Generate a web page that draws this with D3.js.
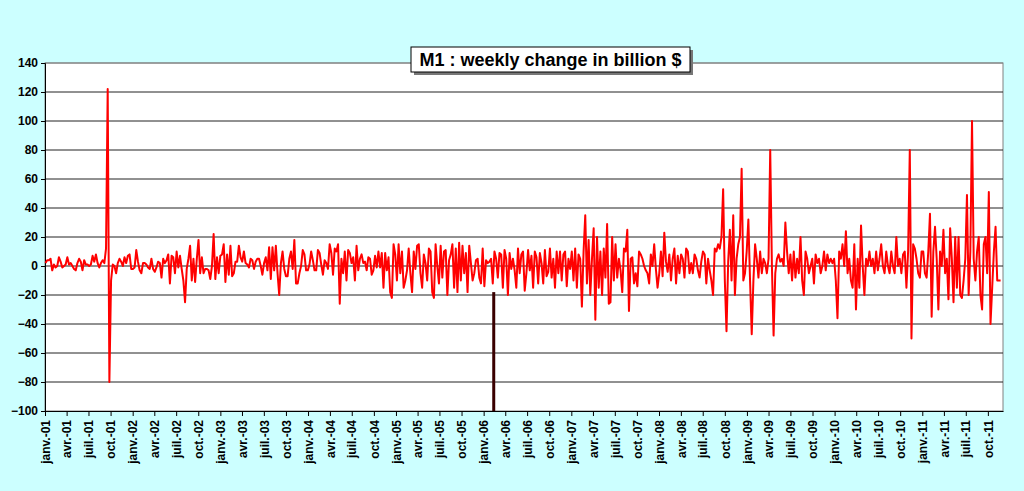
<!DOCTYPE html>
<html><head><meta charset="utf-8">
<script src="https://cdn.jsdelivr.net/npm/d3@7"></script>
<style>
body{margin:0;background:#ccffff;}
text{font-family:"Liberation Sans",Arial,sans-serif;}
</style></head>
<body>
<script>
// weekly change of M1, billion $, one array per year
var years = {
  2001: [2,4,4,5,-3,1,-1,0,6,3,-1,0,1,6,1,2,0,-2,-3,2,5,3,-3,4,1,1,0,1,7,3,8,2,-1,2,4,2,12,122,-80,-10,1,0,-5,2,5,3,0,6,2,7,8,-2],
  2002: [-2,-1,11,3,-3,-5,2,2,1,-1,-2,5,-2,-4,-1,3,2,-8,5,2,4,8,-12,7,6,-5,10,-1,7,-2,-10,-25,-2,5,14,-10,5,-11,5,18,-5,6,-5,-2,-2,-3,-9,0,22,-9,6,-5],
  2003: [7,8,15,-11,8,-6,14,-7,-5,3,3,14,6,3,10,2,1,-1,5,4,-2,3,5,5,0,-6,2,6,-3,13,-9,13,-3,14,-5,-20,2,10,-2,-7,-7,5,10,-2,18,-12,-12,-5,0,11,8,-3],
  2004: [-3,1,10,4,-3,-3,11,9,1,-6,4,2,-2,15,9,-6,12,10,15,-26,5,-5,10,-10,11,9,2,6,-10,14,-3,5,8,2,3,-3,6,5,-6,-3,7,-1,10,-1,9,-15,9,-3,6,-18,-22,15],
  2005: [8,-10,15,-5,10,-15,-10,-3,12,-5,-18,10,-2,14,15,-5,-15,8,2,-10,12,10,-18,-22,15,0,-12,14,-8,10,11,-20,4,8,15,-15,12,-18,16,-10,14,-5,9,-18,14,2,-10,-5,4,5,-8,-12],
  2006: [12,-14,4,2,3,5,-12,10,5,-8,9,8,-15,11,5,-20,9,-2,5,-3,-15,12,-5,8,10,-17,-5,11,-3,7,-15,10,6,-12,9,2,-12,11,-7,-4,12,-8,5,-15,10,-5,10,-10,8,10,-14,5],
  2007: [-2,10,-10,12,-15,8,5,-28,10,35,-12,18,-20,5,26,-37,20,-15,10,-20,12,-8,29,-26,-25,20,-10,15,-8,5,-3,-18,12,10,25,-31,5,6,-12,-5,-14,10,8,5,0,-3,-5,-12,8,0,15,-2],
  2008: [-15,-5,10,-7,23,3,-4,8,-10,5,12,-12,7,-5,8,5,-8,12,10,-5,2,-5,8,5,-3,-8,3,10,8,-12,5,-3,-10,-20,12,10,15,12,20,53,-10,-45,3,25,-10,35,-20,5,15,20,67,-10],
  2009: [-5,10,32,-10,-47,-10,15,5,-8,10,-5,5,2,-5,5,80,0,-48,-5,5,8,3,5,0,30,10,-5,8,-10,10,-8,5,-5,20,-10,-20,10,5,-5,0,5,-12,8,2,5,-5,0,10,-3,8,2,5],
  2010: [2,5,-10,-36,10,5,15,0,24,-5,5,-10,-15,15,-30,5,-15,28,0,-20,5,0,10,0,5,-5,10,-3,5,15,0,-5,10,0,-5,10,0,-5,20,0,5,-5,8,10,-15,10,80,-50,15,12,5,-5],
  2011: [-8,10,10,-5,-8,10,36,-35,10,27,5,-30,10,0,25,-5,5,-23,26,5,-25,20,-15,20,-20,-22,-10,5,49,-20,10,100,5,-10,10,20,-20,-30,15,20,-5,51,-40,-15,10,27,-10,-10,-10]
};
var values = [];
Object.keys(years).forEach(function (y) { values = values.concat(years[y]); });
var start = new Date(2001, 0, 3);
var data = values.map(function (v, i) { return {date: d3.timeDay.offset(start, i * 7), v: v}; });

var W = 1024, H = 491;
var m = {left: 45, right: 21, top: 63, bottom: 80};
var svg = d3.select('body').append('svg').attr('width', W).attr('height', H);

var x = d3.scaleTime().domain([new Date(2001, 0, 1), new Date(2011, 11, 3)]).range([m.left, W - m.right]);
var y = d3.scaleLinear().domain([-100, 140]).range([H - m.bottom, m.top]);

svg.append('rect').attr('x', m.left).attr('y', m.top)
   .attr('width', W - m.right - m.left).attr('height', H - m.bottom - m.top)
   .attr('fill', '#fff').attr('stroke', '#808080');

svg.append('g').selectAll('line').data(d3.range(-80, 141, 20)).enter().append('line')
   .attr('x1', m.left).attr('x2', W - m.right)
   .attr('y1', function (d) { return y(d); }).attr('y2', function (d) { return y(d); })
   .attr('stroke', function (d) { return d == 140 ? '#808080' : '#222'; }).attr('stroke-width', 1);

var months = ['janv.', 'févr.', 'mars', 'avr.', 'mai', 'juin', 'juil.', 'août', 'sept.', 'oct.', 'nov.', 'déc.'];
var fmt = function (d) { return months[d.getMonth()] + '-' + d3.timeFormat('%y')(d); };

var yAxis = svg.append('g').attr('transform', 'translate(' + m.left + ',0)')
   .call(d3.axisLeft(y).tickValues(d3.range(-100, 141, 20)).tickSize(4).tickPadding(3));
var xAxis = svg.append('g').attr('transform', 'translate(0,' + (H - m.bottom) + ')')
   .call(d3.axisBottom(x).tickValues(d3.timeMonth.range(new Date(2001, 0, 1), new Date(2011, 10, 1), 3))
   .tickFormat(fmt).tickSize(5).tickSizeOuter(0));
[yAxis, xAxis].forEach(function (a) {
  a.selectAll('path,line').attr('stroke', '#000');
  a.selectAll('text').attr('fill', '#000').style('font-size', '12px').style('font-weight', 'bold');
});
xAxis.selectAll('text').attr('transform', 'rotate(-90)').attr('text-anchor', 'end')
   .attr('x', -9).attr('y', 0).attr('dy', '0.35em');

// marker
svg.append('line').attr('x1', x(new Date(2006, 1, 12))).attr('x2', x(new Date(2006, 1, 12)))
   .attr('y1', y(-18)).attr('y2', y(-100)).attr('stroke', '#3a0000').attr('stroke-width', 3);

svg.append('path').datum(data)
   .attr('d', d3.line().x(function (d) { return x(d.date); }).y(function (d) { return y(d.v); }))
   .attr('fill', 'none').attr('stroke', '#ff0000').attr('stroke-width', 2).attr('stroke-linejoin', 'round');

// title box
var t = svg.append('g').attr('transform', 'translate(411,47)');
t.append('rect').attr('x', 3).attr('y', 3).attr('width', 279).attr('height', 25).attr('fill', '#777');
t.append('rect').attr('width', 279).attr('height', 25).attr('fill', '#fff').attr('stroke', '#000');
t.append('text').attr('x', 139.5).attr('y', 19).attr('text-anchor', 'middle')
   .style('font-size', '18px').style('font-weight', 'bold').text('M1 : weekly change in billion $');
</script>
</body></html>
